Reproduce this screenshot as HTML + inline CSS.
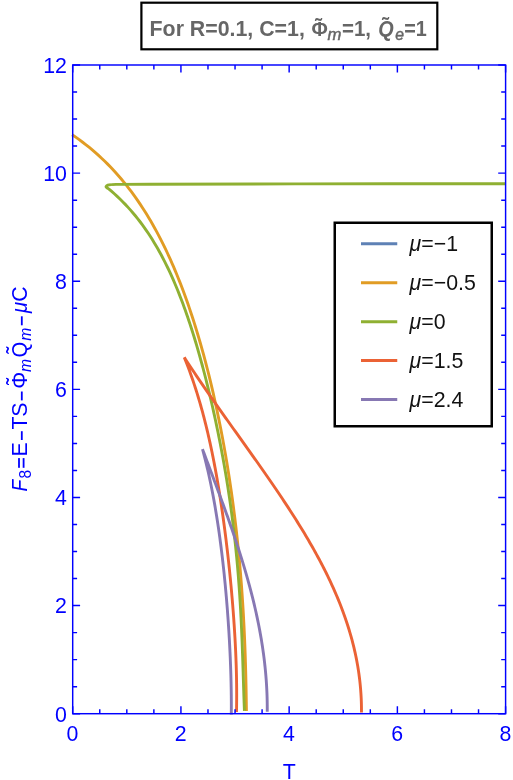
<!DOCTYPE html>
<html><head><meta charset="utf-8"><title>plot</title>
<style>
html,body{margin:0;padding:0;background:#fff;}
svg{display:block;font-family:"Liberation Sans",sans-serif;will-change:transform;}
</style></head><body>
<svg width="513" height="780" viewBox="0 0 513 780">
<rect width="513" height="780" fill="#fff"/>
<g stroke-linecap="butt">
<path d="M72.12 134.70 L75.71 137.17 L79.23 139.68 L82.67 142.24 L86.04 144.84 L89.34 147.48 L92.56 150.16 L95.72 152.88 L98.81 155.64 L101.83 158.44 L104.79 161.28 L107.68 164.15 L110.52 167.06 L113.29 170.00 L116.01 172.97 L118.67 175.98 L121.27 179.02 L123.83 182.09 L126.33 185.19 L128.77 188.32 L131.17 191.48 L133.52 194.67 L135.83 197.88 L138.08 201.12 L140.29 204.39 L142.46 207.68 L144.59 211.00 L146.67 214.34 L148.72 217.70 L150.72 221.09 L152.69 224.49 L154.62 227.92 L156.51 231.38 L158.36 234.85 L160.19 238.34 L161.97 241.85 L163.73 245.38 L165.45 248.93 L167.15 252.50 L168.81 256.08 L170.44 259.68 L172.04 263.30 L173.62 266.93 L175.17 270.58 L176.69 274.25 L178.18 277.93 L179.65 281.62 L181.10 285.33 L182.52 289.06 L183.92 292.79 L185.29 296.54 L186.64 300.31 L187.97 304.09 L189.28 307.87 L190.56 311.68 L191.83 315.49 L193.07 319.31 L194.30 323.15 L195.50 327.00 L196.69 330.86 L197.86 334.72 L199.01 338.60 L200.14 342.49 L201.26 346.39 L202.35 350.30 L203.43 354.22 L204.50 358.15 L205.54 362.09 L206.57 366.04 L207.59 370.00 L208.59 373.97 L209.57 377.94 L210.54 381.93 L211.50 385.92 L212.43 389.92 L213.36 393.93 L214.27 397.95 L215.16 401.98 L216.04 406.01 L216.91 410.05 L217.76 414.10 L218.60 418.16 L219.43 422.23 L220.24 426.31 L221.04 430.39 L221.83 434.48 L222.60 438.58 L223.36 442.68 L224.10 446.80 L224.83 450.92 L225.55 455.04 L226.26 459.18 L226.95 463.32 L227.63 467.48 L228.30 471.63 L228.95 475.80 L229.60 479.97 L230.22 484.15 L230.84 488.34 L231.44 492.54 L232.03 496.74 L232.61 500.95 L233.18 505.17 L233.73 509.39 L234.27 513.62 L234.80 517.86 L235.31 522.11 L235.82 526.36 L236.31 530.62 L236.78 534.89 L237.25 539.17 L237.70 543.45 L238.14 547.74 L238.57 552.03 L238.98 556.34 L239.39 560.65 L239.78 564.97 L240.15 569.29 L240.52 573.63 L240.87 577.97 L241.22 582.31 L241.55 586.66 L241.86 591.02 L242.17 595.39 L242.46 599.77 L242.75 604.15 L243.02 608.53 L243.28 612.93 L243.52 617.33 L243.76 621.74 L243.99 626.15 L244.20 630.57 L244.40 634.99 L244.60 639.43 L244.78 643.87 L244.95 648.31 L245.11 652.76 L245.27 657.22 L245.41 661.68 L245.54 666.14 L245.66 670.62 L245.78 675.09 L245.88 679.58 L245.98 684.06 L246.07 688.56 L246.15 693.05 L246.22 697.55 L246.29 702.06 L246.35 706.57 L246.40 711.08" fill="none" stroke="#E19C24" stroke-width="2.90" stroke-linejoin="round"/>
<path d="M505.50 183.70 C471.25 183.73 359.25 183.82 300.00 183.90 C240.75 183.98 180.67 184.12 150.00 184.20 C119.33 184.28 122.50 184.33 116.00 184.40 C109.50 184.47 112.37 184.47 111.00 184.60 C109.63 184.73 108.62 184.88 107.80 185.20 C106.98 185.52 106.27 186.10 106.10 186.50 C105.93 186.90 106.37 187.20 106.80 187.60 C107.23 188.00 108.39 188.69 108.70 188.91L108.70 188.91 L111.70 191.44 L114.62 194.00 L117.45 196.61 L120.22 199.25 L122.91 201.92 L125.52 204.63 L128.07 207.37 L130.56 210.14 L132.98 212.94 L135.33 215.77 L137.63 218.63 L139.87 221.51 L142.05 224.42 L144.17 227.36 L146.25 230.32 L148.27 233.30 L150.24 236.31 L152.17 239.34 L154.05 242.39 L155.88 245.47 L157.67 248.56 L159.43 251.67 L161.14 254.80 L162.81 257.95 L164.44 261.11 L166.04 264.30 L167.61 267.50 L169.14 270.71 L170.64 273.94 L172.10 277.18 L173.54 280.44 L174.95 283.71 L176.33 287.00 L177.68 290.29 L179.01 293.60 L180.31 296.92 L181.59 300.25 L182.85 303.60 L184.08 306.95 L185.29 310.31 L186.48 313.69 L187.65 317.07 L188.80 320.46 L189.94 323.86 L191.05 327.27 L192.15 330.69 L193.22 334.11 L194.29 337.54 L195.33 340.98 L196.36 344.43 L197.38 347.88 L198.38 351.35 L199.37 354.81 L200.34 358.29 L201.30 361.77 L202.25 365.25 L203.18 368.75 L204.10 372.25 L205.01 375.75 L205.91 379.26 L206.80 382.77 L207.67 386.30 L208.53 389.82 L209.38 393.35 L210.22 396.89 L211.05 400.43 L211.87 403.98 L212.68 407.53 L213.47 411.08 L214.26 414.65 L215.04 418.21 L215.80 421.78 L216.56 425.36 L217.30 428.94 L218.04 432.52 L218.76 436.11 L219.48 439.71 L220.18 443.31 L220.88 446.91 L221.56 450.52 L222.23 454.14 L222.90 457.75 L223.55 461.38 L224.19 465.01 L224.82 468.64 L225.45 472.28 L226.06 475.92 L226.66 479.57 L227.25 483.22 L227.82 486.88 L228.39 490.55 L228.95 494.21 L229.49 497.89 L230.03 501.57 L230.55 505.25 L231.06 508.94 L231.56 512.63 L232.05 516.33 L232.53 520.04 L233.00 523.75 L233.45 527.47 L233.90 531.19 L234.33 534.91 L234.75 538.64 L235.16 542.38 L235.56 546.12 L235.95 549.87 L236.32 553.62 L236.69 557.38 L237.04 561.15 L237.38 564.91 L237.71 568.69 L238.03 572.47 L238.34 576.25 L238.63 580.04 L238.92 583.84 L239.20 587.64 L239.46 591.44 L239.72 595.25 L239.96 599.06 L240.20 602.88 L240.42 606.70 L240.64 610.53 L240.85 614.36 L241.05 618.20 L241.24 622.04 L241.42 625.88 L241.59 629.73 L241.76 633.58 L241.92 637.43 L242.08 641.29 L242.22 645.15 L242.37 649.01 L242.50 652.87 L242.64 656.74 L242.77 660.60 L242.89 664.47 L243.02 668.34 L243.14 672.21 L243.26 676.09 L243.38 679.96 L243.50 683.83 L243.62 687.70 L243.75 691.57 L243.87 695.44 L244.00 699.31 L244.14 703.17 L244.28 707.04 L244.43 710.89" fill="none" stroke="#8FB032" stroke-width="2.90" stroke-linejoin="round"/>
<path d="M236.48 711.92 L236.54 709.47 L236.58 707.02 L236.61 704.57 L236.64 702.13 L236.66 699.68 L236.67 697.24 L236.68 694.80 L236.67 692.36 L236.66 689.92 L236.64 687.48 L236.62 685.04 L236.59 682.61 L236.55 680.17 L236.51 677.74 L236.46 675.31 L236.40 672.88 L236.34 670.45 L236.27 668.02 L236.20 665.59 L236.12 663.16 L236.03 660.74 L235.94 658.31 L235.84 655.89 L235.74 653.47 L235.63 651.04 L235.52 648.62 L235.40 646.20 L235.28 643.78 L235.15 641.36 L235.02 638.95 L234.88 636.53 L234.74 634.11 L234.59 631.70 L234.44 629.28 L234.29 626.87 L234.13 624.46 L233.96 622.04 L233.80 619.63 L233.62 617.22 L233.45 614.81 L233.27 612.40 L233.08 609.99 L232.89 607.59 L232.70 605.18 L232.51 602.77 L232.31 600.37 L232.10 597.96 L231.89 595.56 L231.68 593.15 L231.47 590.75 L231.25 588.35 L231.03 585.95 L230.80 583.54 L230.57 581.14 L230.34 578.74 L230.10 576.35 L229.86 573.95 L229.62 571.55 L229.37 569.15 L229.12 566.75 L228.86 564.36 L228.60 561.96 L228.34 559.57 L228.07 557.17 L227.81 554.78 L227.53 552.39 L227.26 549.99 L226.97 547.60 L226.69 545.21 L226.40 542.82 L226.11 540.43 L225.81 538.04 L225.52 535.66 L225.21 533.27 L224.90 530.88 L224.59 528.49 L224.28 526.11 L223.96 523.72 L223.63 521.34 L223.31 518.96 L222.97 516.57 L222.64 514.19 L222.30 511.81 L221.95 509.43 L221.60 507.05 L221.25 504.67 L220.89 502.30 L220.52 499.92 L220.15 497.54 L219.78 495.17 L219.40 492.79 L219.02 490.42 L218.63 488.05 L218.23 485.68 L217.83 483.31 L217.43 480.94 L217.02 478.57 L216.60 476.20 L216.18 473.83 L215.75 471.47 L215.31 469.10 L214.87 466.74 L214.42 464.38 L213.97 462.02 L213.51 459.66 L213.04 457.30 L212.57 454.94 L212.09 452.58 L211.60 450.23 L211.10 447.88 L210.60 445.52 L210.09 443.17 L209.57 440.82 L209.05 438.47 L208.51 436.13 L207.97 433.78 L207.42 431.44 L206.86 429.10 L206.30 426.75 L205.72 424.41 L205.13 422.08 L204.54 419.74 L203.94 417.41 L203.32 415.07 L202.70 412.74 L202.07 410.41 L201.42 408.08 L200.77 405.76 L200.11 403.43 L199.43 401.11 L198.75 398.79 L198.05 396.47 L197.34 394.16 L196.62 391.84 L195.89 389.53 L195.15 387.22 L194.39 384.91 L193.63 382.61 L192.85 380.30 L192.05 378.00 L191.25 375.70 L190.43 373.41 L189.60 371.11 L188.75 368.82 L187.89 366.53 L187.01 364.24 L186.12 361.96 L185.22 359.68 L184.30 357.40 L184.30 357.40 L185.78 359.68 L187.26 361.96 L188.75 364.23 L190.24 366.50 L191.75 368.77 L193.25 371.04 L194.77 373.31 L196.29 375.57 L197.81 377.83 L199.34 380.09 L200.87 382.35 L202.41 384.61 L203.96 386.86 L205.51 389.11 L207.06 391.36 L208.62 393.61 L210.18 395.86 L211.74 398.11 L213.31 400.36 L214.88 402.60 L216.45 404.84 L218.03 407.09 L219.61 409.33 L221.19 411.57 L222.78 413.81 L224.36 416.05 L225.95 418.29 L227.54 420.52 L229.14 422.76 L230.73 425.00 L232.32 427.23 L233.92 429.47 L235.51 431.70 L237.11 433.94 L238.70 436.18 L240.30 438.41 L241.90 440.65 L243.49 442.88 L245.09 445.12 L246.68 447.36 L248.27 449.59 L249.87 451.83 L251.46 454.07 L253.05 456.31 L254.63 458.54 L256.22 460.78 L257.80 463.02 L259.38 465.27 L260.95 467.51 L262.53 469.75 L264.10 472.00 L265.67 474.24 L267.23 476.49 L268.79 478.74 L270.34 480.99 L271.89 483.24 L273.44 485.50 L274.98 487.75 L276.52 490.01 L278.05 492.27 L279.57 494.53 L281.09 496.79 L282.60 499.06 L284.11 501.33 L285.61 503.60 L287.10 505.87 L288.59 508.15 L290.07 510.43 L291.54 512.71 L293.00 514.99 L294.46 517.28 L295.91 519.57 L297.35 521.86 L298.78 524.16 L300.20 526.45 L301.61 528.76 L303.01 531.06 L304.40 533.37 L305.79 535.69 L307.16 538.00 L308.52 540.32 L309.87 542.65 L311.21 544.98 L312.54 547.31 L313.86 549.65 L315.16 551.99 L316.46 554.33 L317.74 556.69 L319.01 559.04 L320.26 561.40 L321.50 563.76 L322.73 566.13 L323.95 568.51 L325.15 570.89 L326.34 573.27 L327.51 575.66 L328.67 578.06 L329.81 580.46 L330.94 582.86 L332.05 585.27 L333.14 587.69 L334.22 590.12 L335.29 592.54 L336.33 594.98 L337.36 597.42 L338.38 599.87 L339.37 602.32 L340.35 604.79 L341.31 607.25 L342.25 609.73 L343.17 612.21 L344.07 614.70 L344.96 617.19 L345.82 619.69 L346.67 622.20 L347.49 624.72 L348.30 627.24 L349.08 629.77 L349.84 632.31 L350.58 634.86 L351.30 637.41 L352.00 639.98 L352.68 642.55 L353.33 645.12 L353.96 647.71 L354.57 650.31 L355.15 652.91 L355.71 655.52 L356.25 658.15 L356.76 660.78 L357.25 663.41 L357.71 666.06 L358.15 668.72 L358.56 671.39 L358.94 674.06 L359.30 676.75 L359.64 679.44 L359.94 682.15 L360.22 684.86 L360.48 687.59 L360.70 690.32 L360.90 693.07 L361.07 695.82 L361.21 698.59 L361.32 701.36 L361.40 704.15 L361.45 706.95 L361.47 709.76 L361.46 712.58" fill="none" stroke="#EB6235" stroke-width="2.90" stroke-linejoin="miter" stroke-miterlimit="10"/>
<path d="M231.30 714.50 L231.31 712.68 L231.32 710.87 L231.33 709.05 L231.34 707.24 L231.34 705.42 L231.33 703.61 L231.33 701.79 L231.32 699.98 L231.30 698.17 L231.29 696.36 L231.27 694.55 L231.24 692.73 L231.22 690.92 L231.19 689.11 L231.16 687.31 L231.12 685.50 L231.09 683.69 L231.05 681.88 L231.00 680.07 L230.96 678.27 L230.91 676.46 L230.86 674.66 L230.80 672.85 L230.75 671.05 L230.69 669.24 L230.63 667.44 L230.56 665.64 L230.49 663.83 L230.42 662.03 L230.35 660.23 L230.28 658.43 L230.20 656.63 L230.12 654.83 L230.04 653.03 L229.95 651.23 L229.87 649.43 L229.78 647.63 L229.69 645.83 L229.59 644.03 L229.50 642.23 L229.40 640.44 L229.30 638.64 L229.19 636.84 L229.09 635.05 L228.98 633.25 L228.87 631.46 L228.76 629.66 L228.64 627.87 L228.53 626.07 L228.41 624.28 L228.29 622.49 L228.16 620.69 L228.04 618.90 L227.91 617.11 L227.78 615.32 L227.65 613.53 L227.51 611.73 L227.38 609.94 L227.24 608.15 L227.10 606.36 L226.95 604.57 L226.81 602.79 L226.66 601.00 L226.51 599.21 L226.36 597.42 L226.20 595.63 L226.05 593.85 L225.89 592.06 L225.73 590.27 L225.56 588.49 L225.40 586.70 L225.23 584.92 L225.06 583.13 L224.88 581.35 L224.71 579.57 L224.53 577.78 L224.35 576.00 L224.17 574.22 L223.98 572.44 L223.79 570.65 L223.60 568.87 L223.41 567.09 L223.21 565.31 L223.02 563.53 L222.82 561.75 L222.61 559.97 L222.41 558.20 L222.20 556.42 L221.98 554.64 L221.77 552.86 L221.55 551.09 L221.33 549.31 L221.11 547.54 L220.88 545.76 L220.66 543.99 L220.42 542.21 L220.19 540.44 L219.95 538.67 L219.71 536.90 L219.46 535.12 L219.22 533.35 L218.97 531.58 L218.71 529.81 L218.46 528.04 L218.19 526.28 L217.93 524.51 L217.66 522.74 L217.39 520.97 L217.12 519.21 L216.84 517.44 L216.56 515.68 L216.27 513.91 L215.98 512.15 L215.69 510.39 L215.39 508.62 L215.09 506.86 L214.78 505.10 L214.47 503.34 L214.16 501.58 L213.84 499.82 L213.52 498.07 L213.19 496.31 L212.86 494.55 L212.53 492.80 L212.19 491.04 L211.84 489.29 L211.50 487.54 L211.14 485.78 L210.78 484.03 L210.42 482.28 L210.05 480.53 L209.68 478.78 L209.30 477.03 L208.92 475.29 L208.53 473.54 L208.14 471.80 L207.74 470.05 L207.33 468.31 L206.92 466.57 L206.51 464.83 L206.09 463.08 L205.66 461.35 L205.23 459.61 L204.79 457.87 L204.34 456.13 L203.89 454.40 L203.43 452.66 L202.97 450.93 L202.50 449.20 L202.50 449.20 L203.14 450.91 L203.78 452.61 L204.43 454.32 L205.07 456.03 L205.71 457.73 L206.35 459.44 L207.00 461.15 L207.64 462.85 L208.28 464.56 L208.92 466.27 L209.57 467.97 L210.21 469.68 L210.85 471.39 L211.49 473.09 L212.13 474.80 L212.78 476.51 L213.42 478.22 L214.06 479.92 L214.69 481.63 L215.33 483.34 L215.97 485.05 L216.61 486.76 L217.24 488.46 L217.88 490.17 L218.51 491.88 L219.14 493.59 L219.77 495.30 L220.40 497.01 L221.03 498.72 L221.66 500.43 L222.28 502.14 L222.91 503.86 L223.53 505.57 L224.15 507.28 L224.77 508.99 L225.39 510.71 L226.00 512.42 L226.62 514.14 L227.23 515.85 L227.84 517.57 L228.44 519.28 L229.05 521.00 L229.65 522.72 L230.25 524.44 L230.85 526.15 L231.45 527.87 L232.04 529.59 L232.63 531.31 L233.22 533.04 L233.80 534.76 L234.38 536.48 L234.96 538.20 L235.54 539.93 L236.11 541.65 L236.68 543.38 L237.25 545.11 L237.81 546.83 L238.37 548.56 L238.93 550.29 L239.49 552.02 L240.04 553.75 L240.58 555.49 L241.13 557.22 L241.67 558.95 L242.20 560.69 L242.74 562.43 L243.26 564.16 L243.79 565.90 L244.31 567.64 L244.83 569.38 L245.34 571.12 L245.85 572.87 L246.35 574.61 L246.85 576.35 L247.35 578.10 L247.84 579.85 L248.32 581.60 L248.81 583.35 L249.28 585.10 L249.76 586.85 L250.22 588.60 L250.69 590.36 L251.14 592.11 L251.60 593.87 L252.05 595.63 L252.49 597.39 L252.93 599.15 L253.36 600.92 L253.79 602.68 L254.21 604.45 L254.62 606.21 L255.04 607.98 L255.44 609.75 L255.84 611.52 L256.23 613.30 L256.62 615.07 L257.01 616.85 L257.38 618.63 L257.75 620.41 L258.12 622.19 L258.48 623.97 L258.83 625.75 L259.17 627.54 L259.51 629.33 L259.85 631.12 L260.18 632.91 L260.50 634.70 L260.81 636.50 L261.12 638.29 L261.42 640.09 L261.71 641.89 L262.00 643.69 L262.28 645.50 L262.55 647.30 L262.82 649.11 L263.08 650.92 L263.33 652.73 L263.58 654.54 L263.82 656.36 L264.05 658.18 L264.27 660.00 L264.49 661.82 L264.69 663.64 L264.89 665.47 L265.09 667.29 L265.27 669.12 L265.45 670.95 L265.62 672.79 L265.78 674.62 L265.93 676.46 L266.08 678.30 L266.22 680.14 L266.35 681.99 L266.47 683.83 L266.58 685.68 L266.68 687.53 L266.78 689.39 L266.87 691.24 L266.95 693.10 L267.02 694.96 L267.08 696.82 L267.13 698.69 L267.17 700.55 L267.21 702.42 L267.23 704.29 L267.25 706.17 L267.26 708.05 L267.26 709.93 L267.25 711.81" fill="none" stroke="#8778B3" stroke-width="2.90" stroke-linejoin="miter" stroke-miterlimit="10"/>
</g>
<g>
<rect x="72.70" y="65.00" width="432.90" height="648.70" fill="none" stroke="#0000ff" stroke-width="1.45"/>
<path d="M72.70 713.70V706.30M72.70 65.00V72.40M99.76 713.70V709.30M99.76 65.00V69.40M126.81 713.70V709.30M126.81 65.00V69.40M153.87 713.70V709.30M153.87 65.00V69.40M180.93 713.70V706.30M180.93 65.00V72.40M207.98 713.70V709.30M207.98 65.00V69.40M235.04 713.70V709.30M235.04 65.00V69.40M262.09 713.70V709.30M262.09 65.00V69.40M289.15 713.70V706.30M289.15 65.00V72.40M316.21 713.70V709.30M316.21 65.00V69.40M343.26 713.70V709.30M343.26 65.00V69.40M370.32 713.70V709.30M370.32 65.00V69.40M397.38 713.70V706.30M397.38 65.00V72.40M424.43 713.70V709.30M424.43 65.00V69.40M451.49 713.70V709.30M451.49 65.00V69.40M478.54 713.70V709.30M478.54 65.00V69.40M505.60 713.70V706.30M505.60 65.00V72.40M72.70 713.70H80.10M505.60 713.70H498.20M72.70 686.67H77.10M505.60 686.67H501.20M72.70 659.64H77.10M505.60 659.64H501.20M72.70 632.61H77.10M505.60 632.61H501.20M72.70 605.58H80.10M505.60 605.58H498.20M72.70 578.55H77.10M505.60 578.55H501.20M72.70 551.53H77.10M505.60 551.53H501.20M72.70 524.50H77.10M505.60 524.50H501.20M72.70 497.47H80.10M505.60 497.47H498.20M72.70 470.44H77.10M505.60 470.44H501.20M72.70 443.41H77.10M505.60 443.41H501.20M72.70 416.38H77.10M505.60 416.38H501.20M72.70 389.35H80.10M505.60 389.35H498.20M72.70 362.32H77.10M505.60 362.32H501.20M72.70 335.29H77.10M505.60 335.29H501.20M72.70 308.26H77.10M505.60 308.26H501.20M72.70 281.23H80.10M505.60 281.23H498.20M72.70 254.20H77.10M505.60 254.20H501.20M72.70 227.18H77.10M505.60 227.18H501.20M72.70 200.15H77.10M505.60 200.15H501.20M72.70 173.12H80.10M505.60 173.12H498.20M72.70 146.09H77.10M505.60 146.09H501.20M72.70 119.06H77.10M505.60 119.06H501.20M72.70 92.03H77.10M505.60 92.03H501.20M72.70 65.00H80.10M505.60 65.00H498.20" stroke="#0000ff" stroke-width="1.45" fill="none"/>
</g>
<g>
<text transform="translate(72.50 740.80) scale(1.000 1.070)" font-size="21.33" fill="#0000ff" text-anchor="middle">0</text>
<text transform="translate(180.73 740.80) scale(1.000 1.070)" font-size="21.33" fill="#0000ff" text-anchor="middle">2</text>
<text transform="translate(288.95 740.80) scale(1.000 1.070)" font-size="21.33" fill="#0000ff" text-anchor="middle">4</text>
<text transform="translate(397.18 740.80) scale(1.000 1.070)" font-size="21.33" fill="#0000ff" text-anchor="middle">6</text>
<text transform="translate(505.40 740.80) scale(1.000 1.070)" font-size="21.33" fill="#0000ff" text-anchor="middle">8</text>
<text transform="translate(66.90 721.60) scale(1.000 1.070)" font-size="21.33" fill="#0000ff" text-anchor="end">0</text>
<text transform="translate(66.90 613.48) scale(1.000 1.070)" font-size="21.33" fill="#0000ff" text-anchor="end">2</text>
<text transform="translate(66.90 505.37) scale(1.000 1.070)" font-size="21.33" fill="#0000ff" text-anchor="end">4</text>
<text transform="translate(66.90 397.25) scale(1.000 1.070)" font-size="21.33" fill="#0000ff" text-anchor="end">6</text>
<text transform="translate(66.90 289.13) scale(1.000 1.070)" font-size="21.33" fill="#0000ff" text-anchor="end">8</text>
<text transform="translate(66.90 181.02) scale(1.000 1.070)" font-size="21.33" fill="#0000ff" text-anchor="end">10</text>
<text transform="translate(66.90 72.90) scale(1.000 1.070)" font-size="21.33" fill="#0000ff" text-anchor="end">12</text>
<text transform="translate(289.20 778.50) scale(1.000 1.070)" font-size="21.33" fill="#0000ff" text-anchor="middle">T</text>
<g transform="translate(26.8 491.1) rotate(-90)" fill="#0000ff"><text transform="translate(-0.30 0.00) scale(0.900 1.040)" font-size="21.33" fill="#0000ff" font-style="italic">F</text><text transform="translate(12.60 4.40) scale(1.000 1.040)" font-size="15.70" fill="#0000ff">8</text><rect x="23.30" y="-8.70" width="9.70" height="1.80"/><rect x="23.30" y="-4.10" width="9.70" height="1.80"/><text transform="translate(34.65 0.00) scale(1.000 1.040)" font-size="21.33" fill="#0000ff">E</text><rect x="51.10" y="-5.90" width="8.80" height="1.80"/><text transform="translate(61.70 0.00) scale(1.000 1.040)" font-size="21.33" fill="#0000ff">T</text><text transform="translate(74.30 0.00) scale(1.000 1.040)" font-size="21.33" fill="#0000ff">S</text><rect x="90.70" y="-5.90" width="8.90" height="1.80"/><text transform="translate(102.30 0.00) scale(1.000 1.040)" font-size="21.33" fill="#0000ff">Φ</text><text transform="translate(106.40 -3.60) scale(1.000 1.200)" font-size="20.50" fill="#0000ff">˜</text><text transform="translate(119.20 4.40) scale(1.000 1.040)" font-size="15.70" fill="#0000ff" font-style="italic">m</text><text transform="translate(133.50 0.00) scale(0.950 1.040)" font-size="21.33" fill="#0000ff">Q</text><text transform="translate(137.70 -3.60) scale(1.000 1.200)" font-size="20.50" fill="#0000ff">˜</text><text transform="translate(150.40 4.40) scale(1.000 1.040)" font-size="15.70" fill="#0000ff" font-style="italic">m</text><rect x="165.80" y="-5.90" width="9.00" height="1.80"/><text transform="translate(178.20 0.00) scale(0.950 1.040)" font-size="21.33" fill="#0000ff" font-style="italic">μ</text><text transform="translate(189.30 0.00) scale(1.000 1.040)" font-size="21.33" fill="#0000ff">C</text></g>
</g>
<g>
<rect x="334.75" y="222.75" width="157" height="203.5" fill="#fff" stroke="#000" stroke-width="2.5"/>
<path d="M361 243.75H397.25" stroke="#5E81B5" stroke-width="3"/>
<text transform="translate(409.60 251.15) scale(1.000 1.040)" font-size="21.33" fill="#111"><tspan font-style="italic">μ</tspan>=−1</text>
<path d="M361 282.69H397.25" stroke="#E19C24" stroke-width="3"/>
<text transform="translate(409.60 290.09) scale(1.000 1.040)" font-size="21.33" fill="#111"><tspan font-style="italic">μ</tspan>=−0.5</text>
<path d="M361 321.63H397.25" stroke="#8FB032" stroke-width="3"/>
<text transform="translate(409.60 329.03) scale(1.000 1.040)" font-size="21.33" fill="#111"><tspan font-style="italic">μ</tspan>=0</text>
<path d="M361 360.57H397.25" stroke="#EB6235" stroke-width="3"/>
<text transform="translate(409.60 367.97) scale(1.000 1.040)" font-size="21.33" fill="#111"><tspan font-style="italic">μ</tspan>=1.5</text>
<path d="M361 399.51H397.25" stroke="#8778B3" stroke-width="3"/>
<text transform="translate(409.60 406.91) scale(1.000 1.040)" font-size="21.33" fill="#111"><tspan font-style="italic">μ</tspan>=2.4</text>
</g>
<g>
<rect x="141.4" y="2.7" width="295.9" height="46.6" fill="#fff" stroke="#000" stroke-width="2.2"/>
<text transform="translate(149.60 35.70) scale(1.000 1.040)" font-size="21.33" fill="#666" font-weight="bold">For R=0.1, C=1,</text>
<text transform="translate(311.50 35.70) scale(0.930 0.990)" font-size="21.33" fill="#666" font-weight="bold">Φ</text>
<text transform="translate(314.95 34.50) scale(1.000 1.250)" font-size="19.50" fill="#666" font-weight="bold">˜</text>
<text stroke="#666" stroke-width="0.45" transform="translate(327.60 40.40) scale(1.060 1.040)" font-size="15.70" fill="#666" font-style="italic">m</text>
<text transform="translate(342.00 35.70) scale(0.960 1.040)" font-size="21.33" fill="#666" font-weight="bold">=1,</text>
<text transform="translate(378.20 35.70) scale(0.930 1.040)" font-size="21.33" fill="#666" font-weight="bold" font-style="italic">Q</text>
<text transform="translate(382.10 33.90) scale(1.000 1.250)" font-size="19.50" fill="#666" font-weight="bold">˜</text>
<text stroke="#666" stroke-width="0.45" transform="translate(395.20 40.40) scale(1.000 1.040)" font-size="15.70" fill="#666" font-style="italic">e</text>
<text transform="translate(404.20 35.70) scale(0.930 1.040)" font-size="21.33" fill="#666" font-weight="bold">=1</text>
</g>
</svg>
</body></html>
